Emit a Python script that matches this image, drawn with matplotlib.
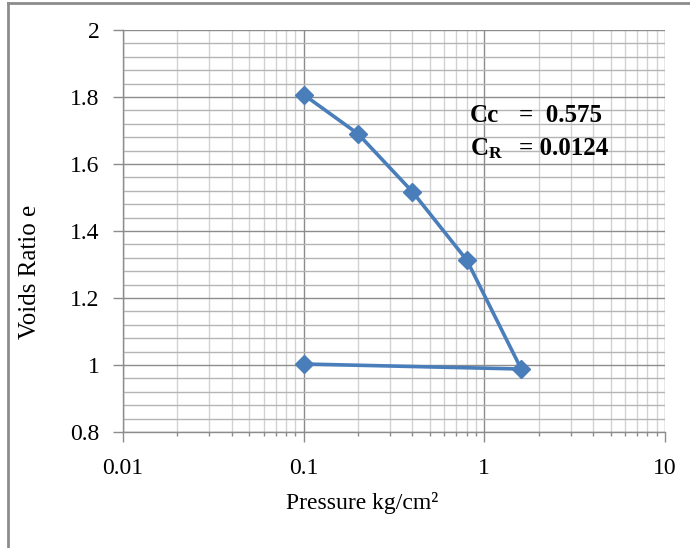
import matplotlib
matplotlib.use("Agg")
import matplotlib.pyplot as plt
from matplotlib.ticker import LogLocator, FixedLocator, NullFormatter, FixedFormatter
from matplotlib.lines import Line2D

plt.rcParams['font.family'] = ['Liberation Serif', 'DejaVu Serif']
plt.rcParams['mathtext.fontset'] = 'custom'
plt.rcParams['mathtext.rm'] = 'Liberation Serif'
plt.rcParams['mathtext.bf'] = 'Liberation Serif:bold'

# Data
pressure = [0.1, 0.2, 0.4, 0.8, 1.6, 0.1]
void_ratio = [1.807, 1.690, 1.517, 1.313, 0.988, 1.003]
x_ticks = [0.01, 0.1, 1, 10]
x_tick_labels = ["0.01", "0.1", "1", "10"]
y_ticks = [0.8, 1.0, 1.2, 1.4, 1.6, 1.8, 2.0]
y_tick_labels = ["0.8", "1", "1.2", "1.4", "1.6", "1.8", "2"]

W, H = 690, 548
fig = plt.figure(figsize=(W / 100, H / 100), dpi=100)
ax = fig.add_axes([123 / W, 1 - 432 / H, (665 - 123) / W, (432 - 30) / H])

ax.set_xscale('log')
ax.set_xlim(0.01, 10)
ax.set_ylim(0.8, 2.0)

ax.xaxis.set_major_locator(FixedLocator(x_ticks))
ax.xaxis.set_major_formatter(FixedFormatter(x_tick_labels))
ax.xaxis.set_minor_locator(LogLocator(base=10, subs=range(2, 10)))
ax.xaxis.set_minor_formatter(NullFormatter())
ax.yaxis.set_major_locator(FixedLocator(y_ticks))
ax.yaxis.set_major_formatter(FixedFormatter(y_tick_labels))
ax.yaxis.set_minor_locator(FixedLocator([0.8 + 0.04 * i for i in range(31)]))

ax.grid(True, which='major', axis='both', color='#8C8C8C', linewidth=1.0)
ax.grid(True, which='minor', axis='y', color='#B4B4B4', linewidth=1.0)
ax.grid(True, which='minor', axis='x', color='#D2D2D2', linewidth=1.0)
ax.set_axisbelow(True)

for s in ['top', 'right']:
    ax.spines[s].set_visible(False)
for s in ['left', 'bottom']:
    ax.spines[s].set_color('#8C8C8C')
    ax.spines[s].set_linewidth(1.0)

ax.tick_params(axis='both', which='major', length=7, width=1, color='#8C8C8C',
               labelsize=17, pad=10)
ax.tick_params(axis='x', which='minor', length=3, width=1, color='#8C8C8C')
ax.tick_params(axis='y', which='minor', length=0)
ax.tick_params(axis='x', which='major', pad=12)

ax.plot(pressure, void_ratio, color='#4A7EBB', linewidth=2.6, marker='D',
        markersize=9, markerfacecolor='#4A7EBB', markeredgecolor='#4A7EBB',
        clip_on=False, zorder=5)

fig.text(30 / W, 1 - 272 / H, "Voids Ratio e", rotation=90, ha='center', va='center', fontsize=18)
fig.text(362 / W, 1 - 503 / H, "Pressure kg/cm²", ha='center', va='center', fontsize=17)

fig.text(470 / W, 1 - 122 / H, "Cc", fontsize=18, fontweight='bold', ha='left', va='baseline')
fig.text(519 / W, 1 - 122 / H, "=  0.575", fontsize=18, fontweight='bold', ha='left', va='baseline')
fig.text(470 / W, 1 - 155 / H, r"$\mathbf{C_R}$", fontsize=18, ha='left', va='baseline')
fig.text(519 / W, 1 - 155 / H, "= 0.0124", fontsize=18, fontweight='bold', ha='left', va='baseline')

# outer frame (left and top)
fig.add_artist(Line2D([7.5 / W, 7.5 / W], [0, 1 - 3 / H], transform=fig.transFigure,
                      color='#8C8C8C', linewidth=2))
fig.add_artist(Line2D([7.5 / W, 1], [1 - 3 / H, 1 - 3 / H], transform=fig.transFigure,
                      color='#8C8C8C', linewidth=2))

fig.savefig("out.png", dpi=100)
